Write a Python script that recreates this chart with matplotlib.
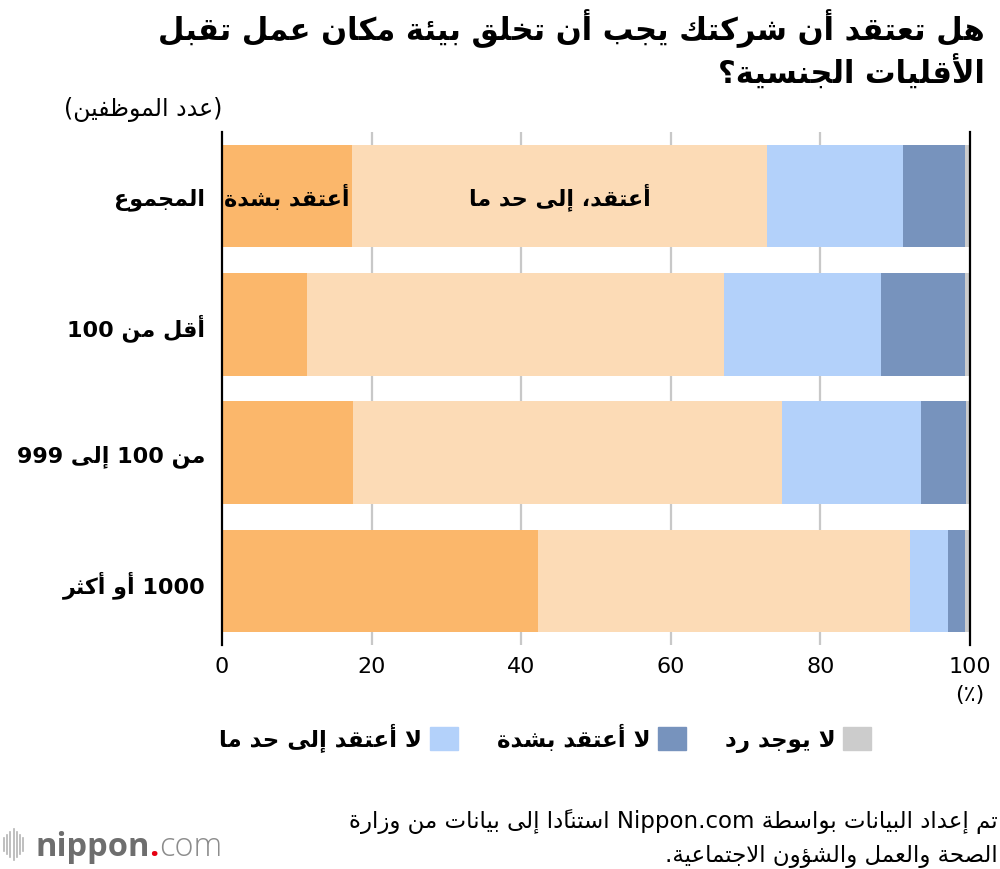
import re
import matplotlib
matplotlib.use("Agg")
import matplotlib.pyplot as plt
from matplotlib.patches import Patch
from matplotlib.lines import Line2D

plt.rcParams['font.family'] = ['DejaVu Sans']

# Data: share of companies (%) by number of employees
groups = ["المجموع", "أقل من 100", "من 100 إلى 999", "1000 أو أكثر"]
answers = ["أعتقد بشدة", "أعتقد، إلى حد ما", "لا أعتقد إلى حد ما", "لا أعتقد بشدة", "لا يوجد رد"]
strongly_yes = [17.4, 11.4, 17.5, 42.2]
somewhat_yes = [55.5, 55.7, 57.3, 49.8]
somewhat_no = [18.1, 21.0, 18.6, 5.1]
strongly_no = [8.3, 11.2, 6.0, 2.2]
no_answer = [0.7, 0.7, 0.6, 0.7]
colors = ["#fbb76b", "#fcdbb6", "#b3d1fa", "#7793bd", "#cccccc"]
xticks = [0, 20, 40, 60, 80, 100]

title_lines = ["هل تعتقد أن شركتك يجب أن تخلق بيئة مكان عمل تقبل", "الأقليات الجنسية؟"]
source_lines = ["تم إعداد البيانات بواسطة Nippon.com استنادًا إلى بيانات من وزارة",
                "الصحة والعمل والشؤون الاجتماعية."]

# --- tiny Arabic shaper + bidi (matplotlib has no text shaping) ---
_letters = "ءآأؤإئابةتثجحخدذرزسشصضطظعغفقكلمنهوىي"
_nforms = [1, 2, 2, 2, 2, 4, 2, 4, 2, 4, 4, 4, 4, 4, 2, 2, 2, 2, 4, 4,
           4, 4, 4, 4, 4, 4, 4, 4, 4, 4, 4, 4, 4, 2, 2, 4]
FORMS = {}
cp = 0xFE80
for ch, n in zip(_letters, _nforms):
    FORMS[ch] = tuple(chr(cp + i) for i in range(n))
    cp += n
for i, alef in enumerate("آأإا"):
    FORMS["ل" + alef] = (chr(0xFEF5 + 2 * i), chr(0xFEF6 + 2 * i))
MARKS = {chr(c) for c in range(0x064B, 0x0660)}
MIRROR = {"(": ")", ")": "("}
LTR = re.compile(r"[A-Za-z0-9]+(?:\.[A-Za-z0-9]+)*")


def _shape(s):
    toks, i = [], 0
    while i < len(s):
        if s[i:i + 2] in FORMS and len(s[i:i + 2]) == 2:
            toks.append(s[i:i + 2]); i += 2
        else:
            toks.append(s[i]); i += 1
    out = []
    for i, t in enumerate(toks):
        if t not in FORMS:
            out.append(MIRROR.get(t, t))
            continue
        j = i - 1
        while j >= 0 and toks[j] in MARKS:
            j -= 1
        k = i + 1
        while k < len(toks) and toks[k] in MARKS:
            k += 1
        prev = j >= 0 and len(FORMS.get(toks[j], ())) == 4 and len(FORMS[t]) > 1
        nxt = len(FORMS[t]) == 4 and k < len(toks) and len(FORMS.get(toks[k], ())) > 1
        out.append(FORMS[t][int(prev) + 2 * int(nxt)])
    clusters = []
    for g in out:
        if g in MARKS and clusters:
            clusters[-1] += g
        else:
            clusters.append(g)
    return clusters


def ar(line):
    units, pos = [], 0
    for m in LTR.finditer(line):
        units += _shape(line[pos:m.start()])
        units.append(m.group())
        pos = m.end()
    units += _shape(line[pos:])
    return "".join(reversed(units))


fig = plt.figure(figsize=(10, 8.7), dpi=100)
ax = fig.add_axes([0.222, 0.2575, 0.748, 0.5897])

series = [strongly_yes, somewhat_yes, somewhat_no, strongly_no, no_answer]
y = list(range(len(groups)))
left = [0] * len(groups)
for vals, col in zip(series, colors):
    ax.barh(y, vals, left=left, height=0.8, color=col, zorder=2)
    left = [a + b for a, b in zip(left, vals)]

# in-bar labels for the first row
ax.text(strongly_yes[0] / 2, 0, ar(answers[0]), ha="center", va="center",
        fontsize=16, fontweight="bold", zorder=3)
ax.text(strongly_yes[0] + somewhat_yes[0] / 2, 0, ar(answers[1]), ha="center",
        va="center", fontsize=16, fontweight="bold", zorder=3)

ax.set_xlim(0, 100)
ax.set_ylim(3.5, -0.5)
ax.set_xticks(xticks)
ax.set_xticklabels([str(v) for v in xticks], fontsize=16)
ax.set_yticks(y)
ax.set_yticklabels([ar(g) for g in groups], fontsize=16, fontweight="bold")
ax.tick_params(axis="both", length=0)
ax.tick_params(axis="x", pad=8)
ax.tick_params(axis="y", pad=12)
for xv in xticks[1:-1]:
    ax.axvline(xv, color="#c8c8c8", lw=1.6, zorder=1)
for s in ["top", "bottom"]:
    ax.spines[s].set_visible(False)
for s in ["left", "right"]:
    ax.spines[s].set_linewidth(1.6)
    ax.spines[s].set_zorder(4)

fig.text(0.985, 0.943, "\n".join(ar(l) for l in title_lines), ha="right", va="center",
         fontsize=22, fontweight="bold", linespacing=1.2)
fig.text(0.222, 0.874, ar("(عدد الموظفين)"), ha="right", va="center", fontsize=17)
fig.text(0.970, 0.201, ar("(٪)"), ha="center", va="center", fontsize=16)

handles = [Patch(color=colors[i]) for i in (2, 3, 4)]
fig.legend(handles, [ar(answers[i]) for i in (2, 3, 4)], loc="center",
           bbox_to_anchor=(0.545, 0.151), ncol=3, frameon=False, markerfirst=False,
           handlelength=1.2, handleheight=1.2, columnspacing=1.7, handletextpad=0.35,
           prop={"size": 16.5, "weight": "bold"})

fig.text(0.998, 0.036, "\n".join(ar(l) for l in source_lines), ha="right", va="center",
         fontsize=16.5, linespacing=1.55)

# nippon.com logo
for i, h in enumerate([0.6, 0.9, 1.2, 1.5, 1.2, 0.9, 0.6]):
    xl = 0.004 + i * 0.0032
    fig.add_artist(Line2D([xl, xl], [0.028 - 0.012 * h, 0.028 + 0.012 * h],
                          color="#b4b4b4", lw=1.2))
r = fig.canvas.get_renderer()
x = 0.035
for part, col, w in [("nippon", "#6e6e6e", "bold"), (".", "#e60012", "bold"),
                     ("com", "#8c8c8c", "light")]:
    t = fig.text(x, 0.016, part, color=col, fontweight=w, fontsize=23.5,
                 va="baseline", family="Open Sans")
    x += t.get_window_extent(r).width / fig.bbox.width

fig.savefig("out.png", dpi=100)
